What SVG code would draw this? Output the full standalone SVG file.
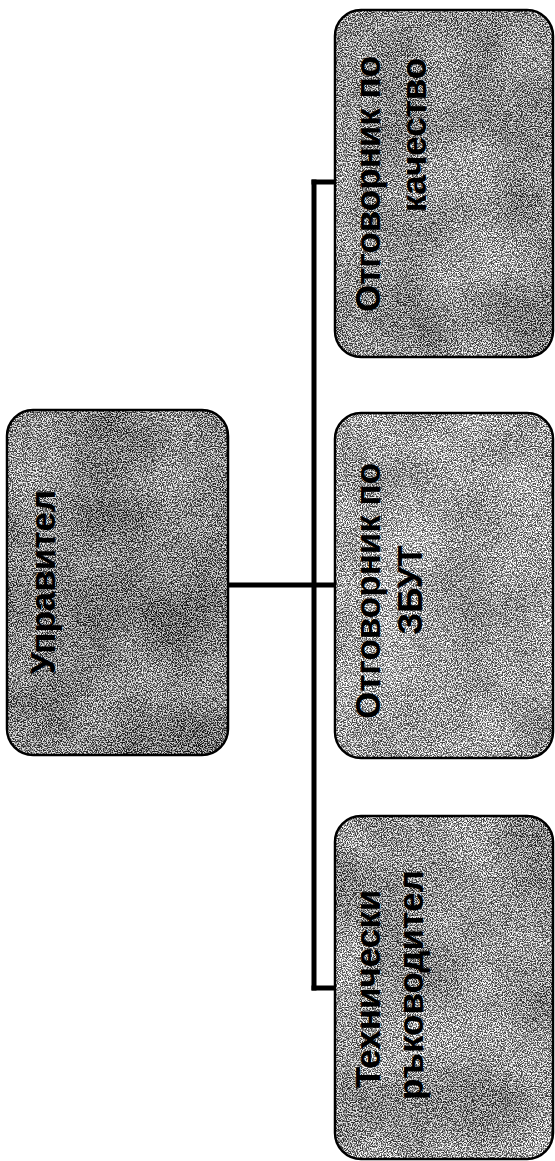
<svg xmlns="http://www.w3.org/2000/svg" width="555" height="1161" viewBox="0 0 555 1161">
  <style>
    .edge { fill: none; stroke: #000; stroke-width: 2.5; }
    .lbl { font-family: "Liberation Sans", Arial, sans-serif; font-weight: bold; font-size: 35px; fill: #000; text-anchor: middle; }
    .conn { stroke: #000; stroke-width: 5; fill: none; stroke-linecap: square; }
  </style>
  <defs>
    <filter id="grain" x="0" y="0" width="100%" height="100%" color-interpolation-filters="sRGB">
      <feTurbulence type="fractalNoise" baseFrequency="0.8" numOctaves="2" seed="7" result="n1"/>
      <feColorMatrix in="n1" type="matrix" values="1 0 0 0 0  1 0 0 0 0  1 0 0 0 0  0 0 0 0 1" result="g1"/>
      <feComponentTransfer in="g1" result="c1">
        <feFuncR type="linear" slope="4.5" intercept="-1.75"/>
        <feFuncG type="linear" slope="4.5" intercept="-1.75"/>
        <feFuncB type="linear" slope="4.5" intercept="-1.75"/>
      </feComponentTransfer>
      <feTurbulence type="fractalNoise" baseFrequency="0.014" numOctaves="2" seed="3" result="n2"/>
      <feColorMatrix in="n2" type="matrix" values="1 0 0 0 0  1 0 0 0 0  1 0 0 0 0  0 0 0 0 1" result="g2"/>
      <feComponentTransfer in="g2" result="c2">
        <feFuncR type="linear" slope="2" intercept="-0.5"/>
        <feFuncG type="linear" slope="2" intercept="-0.5"/>
        <feFuncB type="linear" slope="2" intercept="-0.5"/>
      </feComponentTransfer>
      <feComposite in="c1" in2="c2" operator="arithmetic" k1="0" k2="0.8" k3="0.2" k4="0" result="mix"/>
      <feComposite in="mix" in2="SourceGraphic" operator="arithmetic" k1="0" k2="0.9" k3="1" k4="-0.45" result="tone"/>
      <feComposite in="tone" in2="SourceGraphic" operator="in"/>
    </filter>
  </defs>

  <g id="connectors">
    <line class="conn" x1="314" y1="182" x2="314" y2="988"/>
    <line class="conn" x1="314" y1="182" x2="335" y2="182"/>
    <line class="conn" x1="228" y1="585" x2="335" y2="585"/>
    <line class="conn" x1="314" y1="988" x2="335" y2="988"/>
  </g>

  <g id="node-upravitel">
    <rect x="7" y="410" width="221" height="345" rx="26" fill="#808080" filter="url(#grain)"/>
    <rect class="edge" x="7" y="410" width="221" height="345" rx="26"/>
    <text class="lbl" transform="translate(55 582) rotate(-90)">Управител</text>
  </g>

  <g id="node-kachestvo">
    <rect x="335" y="10" width="218" height="347" rx="26" fill="#8e8e8e" filter="url(#grain)"/>
    <rect class="edge" x="335" y="10" width="218" height="347" rx="26"/>
    <text class="lbl" transform="translate(380 184) rotate(-90)">Отговорник по</text>
    <text class="lbl" transform="translate(426 135) rotate(-90)">качество</text>
  </g>

  <g id="node-zbut">
    <rect x="335" y="413" width="218" height="345" rx="26" fill="#a0a0a0" filter="url(#grain)"/>
    <rect class="edge" x="335" y="413" width="218" height="345" rx="26"/>
    <text class="lbl" transform="translate(380 591) rotate(-90)">Отговорник по</text>
    <text class="lbl" transform="translate(422 590) rotate(-90)">ЗБУТ</text>
  </g>

  <g id="node-tehnicheski">
    <rect x="335" y="816" width="218" height="343" rx="26" fill="#949494" filter="url(#grain)"/>
    <rect class="edge" x="335" y="816" width="218" height="343" rx="26"/>
    <text class="lbl" transform="translate(380 989) rotate(-90)">Технически</text>
    <text class="lbl" transform="translate(423 985) rotate(-90)">ръководител</text>
  </g>
</svg>
